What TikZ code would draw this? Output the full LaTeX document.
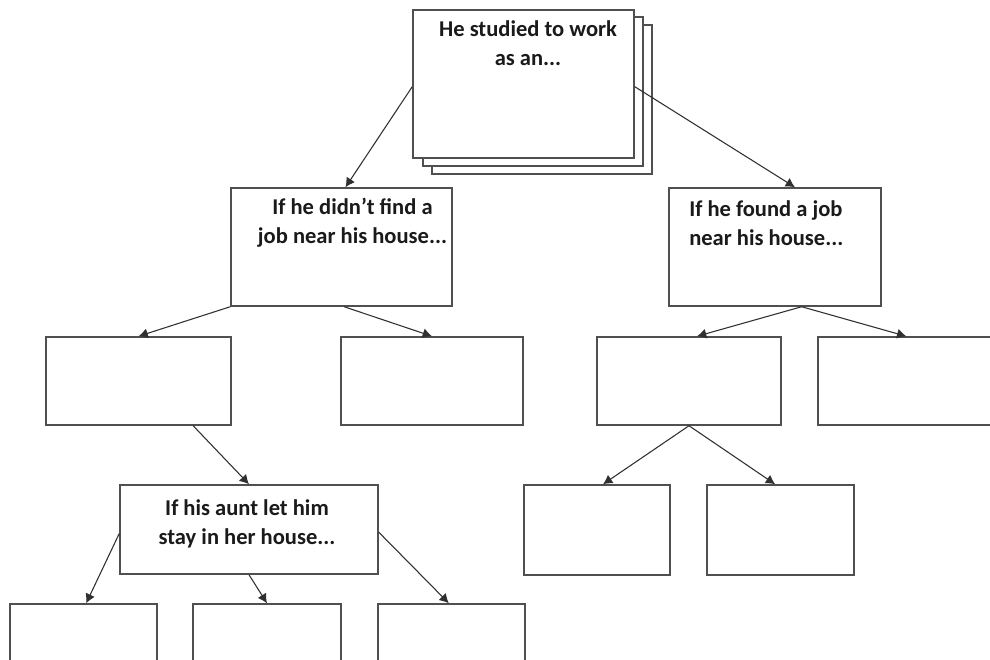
\documentclass[tikz,border=0pt]{standalone}
\usepackage{fontspec}
\setmainfont{Carlito}
\usetikzlibrary{arrows.meta,fit,calc}
\definecolor{boxline}{HTML}{505050}
\definecolor{arrline}{HTML}{303030}
\definecolor{txt}{HTML}{1A1A1A}
\tikzset{
  box/.style={draw=boxline, line width=1.1pt, fill=white, inner sep=0pt},
  lbl/.style={text=txt, font=\bfseries\fontsize{16.9}{21.8}\selectfont, inner sep=0pt},
  arr/.style={draw=arrline, line width=0.8pt, -{Latex[length=7pt,width=7.5pt]}}
}
\newcommand{\mkbox}[5]{\node[box, fit={(#2,#3) (#4,#5)}] (#1) {};}
\begin{document}
\begin{tikzpicture}[x=0.75pt,y=-0.75pt]
\useasboundingbox (0,0) rectangle (990,660);
\clip (0,0) rectangle (990,660);
\fill[white] (0,0) rectangle (990,660);
% stacked top box
\mkbox{topc}{432}{25}{652}{174}
\mkbox{topb}{423}{17}{643}{166}
\mkbox{top}{413}{10}{634}{158}
\node[lbl, align=center] (ttop) at (528,43) {He studied to work\\as an...};
% level 1
\mkbox{nofind}{231}{188}{452}{306}
\node[lbl, align=center] (tnofind) at (352.5,223) {If he didn’t find a\\job near his house...};
\mkbox{found}{669}{188}{881}{306}
\node[lbl, align=left, anchor=west] (tfound) at (689,223) {If he found a job\\near his house...};
% level 2
\mkbox{b1}{46}{337}{231}{425}
\mkbox{b2}{341}{337}{523}{425}
\mkbox{b3}{597}{337}{781}{425}
\mkbox{b4}{818}{337}{1000}{425}
% level 3
\mkbox{aunt}{120}{485}{378}{574}
\node[lbl, align=center] (taunt) at (247,524) {If his aunt let him\\stay in her house...};
\mkbox{b5}{524}{485}{670}{575}
\mkbox{b6}{707}{485}{854}{575}
% level 4
\mkbox{c1}{10}{604}{157}{690}
\mkbox{c2}{193}{604}{341}{690}
\mkbox{c3}{378}{604}{525}{690}
% connectors
\draw[arr] ([yshift=-2pt]top.west) -- ([xshift=3pt]nofind.north);
\draw[arr] ([yshift=-2pt]top.east) -- ([xshift=15pt]found.north);
\draw[arr] (nofind.south west) -- (b1.north);
\draw[arr] ([xshift=2pt]nofind.south) -- (b2.north);
\draw[arr] ([xshift=20pt]found.south) -- ([xshift=6pt]b3.north);
\draw[arr] ([xshift=20pt]found.south) -- ([xshift=-2pt]b4.north);
\draw[arr] (b3.south) -- ([xshift=4.5pt]b5.north);
\draw[arr] (b3.south) -- ([xshift=-4pt]b6.north);
\draw[arr] ([xshift=41pt]b1.south) -- (aunt.north);
\draw[arr] ([yshift=-3pt]aunt.west) -- ([xshift=2pt]c1.north);
\draw[arr] (aunt.south) -- (c2.north);
\draw[arr] ([yshift=-2pt]aunt.east) -- ([xshift=-2pt]c3.north);
\end{tikzpicture}
\end{document}
